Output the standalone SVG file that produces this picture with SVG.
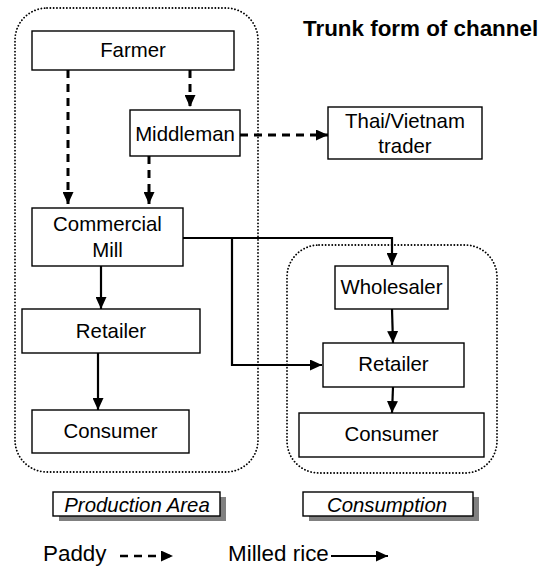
<svg xmlns="http://www.w3.org/2000/svg" width="555" height="570" viewBox="0 0 555 570">
<style>
.box{fill:#fff;stroke:#000;stroke-width:1.4}
.t{font-family:"Liberation Sans",Arial,sans-serif;font-size:20.4px;fill:#000;text-anchor:middle}
.ti{font-family:"Liberation Sans",Arial,sans-serif;font-size:20.4px;font-style:italic;fill:#000;text-anchor:middle}
.lg{font-family:"Liberation Sans",Arial,sans-serif;font-size:22.4px;fill:#000}
.title{font-family:"Liberation Sans",Arial,sans-serif;font-size:22.4px;font-weight:bold;fill:#000}
.dot{fill:none;stroke:#000;stroke-width:1.8;stroke-dasharray:0.1 3.2;stroke-linecap:round}
.dash{fill:none;stroke:#000;stroke-width:3;stroke-dasharray:8 6;marker-end:url(#ah)}
.solid{fill:none;stroke:#000;stroke-width:2.2;marker-end:url(#ah)}
.shadow{fill:#808080}
</style>
<defs>
<marker id="ah" viewBox="0 0 12 11" markerWidth="12" markerHeight="11" refX="12" refY="5.5" markerUnits="userSpaceOnUse" orient="auto">
<path d="M0,0 L12,5.5 L0,11 z" fill="#000"/>
</marker>
</defs>

<g id="areas">
<rect id="production-area-outline" class="dot" x="15" y="8" width="243" height="464" rx="32"/>
<rect id="consumption-area-outline" class="dot" x="287" y="245" width="210" height="228" rx="32"/>
</g>

<text class="title" x="303" y="35.5">Trunk form of channel</text>

<g id="connectors">
<path class="dash" d="M68,70 V204"/>
<path class="dash" d="M190,70 V107"/>
<path class="dash" d="M149,156 V204"/>
<path class="dash" d="M240,135 H328"/>
<path class="solid" d="M101,266 V309"/>
<path class="solid" d="M98,353 V410"/>
<path class="solid" d="M183,238 H392 V265"/>
<path class="solid" d="M232,238 V365 H322"/>
<path class="solid" d="M392,309 L393,343"/>
<path class="solid" d="M393,387 L392,413"/>
</g>

<g id="farmer"><rect class="box" x="32" y="31" width="202" height="39"/><text class="t" x="133" y="57">Farmer</text></g>
<g id="middleman"><rect class="box" x="130" y="110" width="110" height="46"/><text class="t" x="185" y="141">Middleman</text></g>
<g id="thai-vietnam-trader"><rect class="box" x="328" y="107" width="154" height="52"/><text class="t" x="405" y="128">Thai/Vietnam</text><text class="t" x="405" y="153">trader</text></g>
<g id="commercial-mill"><rect class="box" x="32" y="208" width="151" height="58"/><text class="t" x="107.5" y="231">Commercial</text><text class="t" x="107.5" y="257">Mill</text></g>
<g id="retailer-production"><rect class="box" x="22" y="309" width="178" height="44"/><text class="t" x="111" y="338">Retailer</text></g>
<g id="consumer-production"><rect class="box" x="32" y="410" width="157" height="43"/><text class="t" x="110.5" y="438">Consumer</text></g>
<g id="wholesaler"><rect class="box" x="335" y="266" width="113" height="43"/><text class="t" x="391.5" y="294">Wholesaler</text></g>
<g id="retailer-consumption"><rect class="box" x="323" y="343" width="141" height="44"/><text class="t" x="393.5" y="371">Retailer</text></g>
<g id="consumer-consumption"><rect class="box" x="299" y="413" width="185" height="44"/><text class="t" x="391.5" y="441">Consumer</text></g>

<g id="production-area-label"><rect class="shadow" x="59" y="497" width="167" height="24"/><rect class="box" x="53" y="492" width="167" height="24"/><text class="ti" x="137" y="512">Production Area</text></g>
<g id="consumption-label"><rect class="shadow" x="309" y="497" width="170" height="24"/><rect class="box" x="303" y="492" width="170" height="24"/><text class="ti" x="387" y="512">Consumption</text></g>

<g id="legend">
<text class="lg" x="43" y="561">Paddy</text>
<path class="dash" d="M120,556 H173" style="stroke-width:2.6"/>
<text class="lg" x="228" y="561">Milled rice</text>
<path class="solid" d="M331,556 H388"/>
</g>
</svg>
